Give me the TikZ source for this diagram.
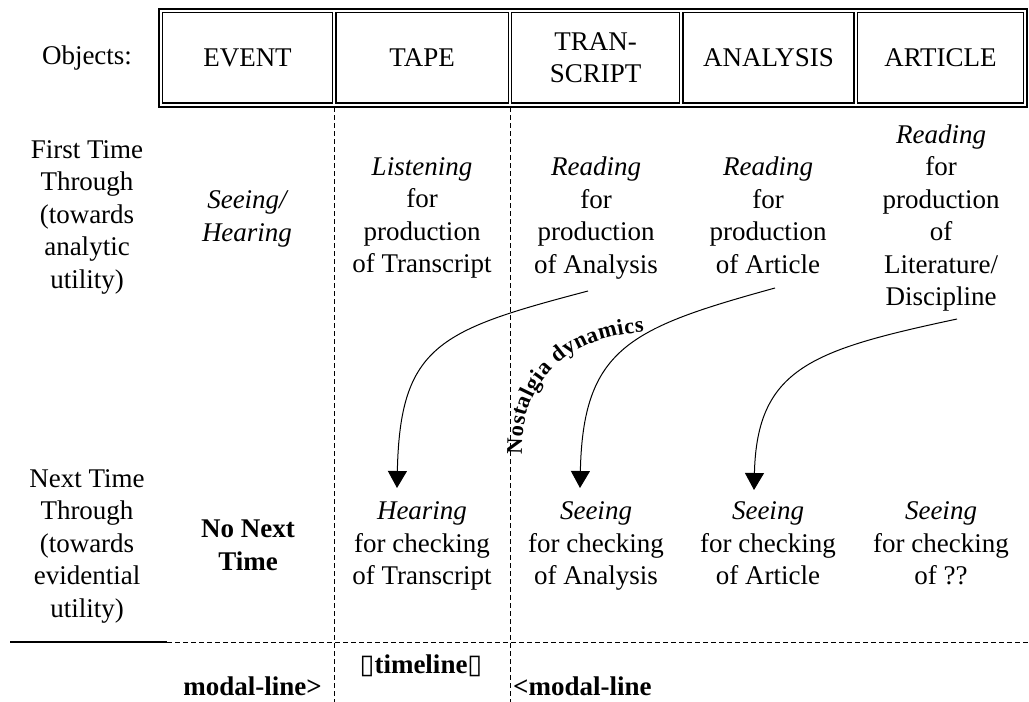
\documentclass[tikz,border=0pt]{standalone}
\usepackage{fontspec}
\setmainfont{Liberation Serif}
\newfontfamily\symfont{DejaVu Sans}
\usetikzlibrary{arrows.meta,decorations.text}
\begin{document}
\begin{tikzpicture}[x=1pt,y=-1pt,
  txt/.style={align=center, font=\fontsize{27}{32.5}\selectfont, inner sep=0pt,
    execute at begin node=\strut, execute at end node=\strut},
  btxt/.style={txt, font=\fontsize{27}{32.5}\selectfont\bfseries},
  lbl/.style={inner sep=0pt, font=\fontsize{27}{32.5}\selectfont\bfseries},
  cell/.style={draw, line width=1.2pt, inner sep=0pt, align=center,
    font=\fontsize{27}{32.5}\selectfont, minimum height=90.5pt},
  vdash/.style={line width=0.9pt, dash pattern=on 5pt off 3pt},
  flow/.style={line width=1pt, -{Triangle[width=19pt,length=17pt]}}]
\useasboundingbox (0,0) rectangle (1029,702);
% header table
\draw[line width=1.2pt] (159,9) rectangle (1027,107);
\node[txt] (objects) at (87,58) {Objects:};
\node[cell, minimum width=170pt] (event) at (247.5,57.75) {EVENT};
\node[cell, minimum width=172.3pt] (tape) at (422.15,57.75) {TAPE};
\node[cell, minimum width=167.8pt] (transcript) at (595.6,57.75) {TRAN-\\SCRIPT};
\node[cell, minimum width=171pt] (analysis) at (768.5,57.75) {ANALYSIS};
\node[cell, minimum width=166pt] (article) at (940.5,57.75) {ARTICLE};
% dividers
\coordinate (d1t) at (334.3,107); \coordinate (d1b) at (334.3,702);
\coordinate (d2t) at (510,107);   \coordinate (d2b) at (510,702);
\draw[vdash] (d1t) -- (d1b);
\draw[vdash] (d2t) -- (d2b);
\coordinate (hl) at (10,642); \coordinate (hm) at (167,642); \coordinate (hr) at (1029,642);
\draw[line width=1.3pt] (hl) -- (hm);
\draw[vdash] (hm) -- (hr);
% row 1
\node[txt] (first) at (87,219) {First Time\\Through\\(towards\\analytic\\utility)};
\node[txt] (seeing1) at (247,221) {\itshape Seeing/\\\itshape Hearing};
\node[txt] (listen) at (422,220) {\itshape Listening\\for\\production\\of Transcript};
\node[txt] (readT) at (596,220) {\itshape Reading\\for\\production\\of Analysis};
\node[txt] (readA) at (768,220) {\itshape Reading\\for\\production\\of Article};
\node[txt] (readR) at (941,220) {\itshape Reading\\for\\production\\of\\Literature/\\Discipline};
% row 2
\node[txt] (next) at (87,548) {Next Time\\Through\\(towards\\evidential\\utility)};
\node[btxt] (nonext) at (248,550) {No Next\\Time};
\node[txt] (hearing) at (422,548) {\itshape Hearing\\for checking\\of Transcript};
\node[txt] (seeA) at (596,548) {\itshape Seeing\\for checking\\of Analysis};
\node[txt] (seeR) at (768,548) {\itshape Seeing\\for checking\\of Article};
\node[txt] (seeQ) at (941,548) {\itshape Seeing\\for checking\\of ??};
% bottom labels
\node[lbl, anchor=base] (timeline) at (421,673) {{\symfont\mdseries ▯}timeline{\symfont\mdseries ▯}};
\node[lbl, anchor=base east] (modalL) at (322,695) {modal-line>};
\node[lbl, anchor=base west] (modalR) at (513,695) {<modal-line};
% arrows
\coordinate (a1s) at (588,291); \coordinate (a1e) at (397,488);
\coordinate (a2s) at (775,288); \coordinate (a2e) at (580,488);
\coordinate (a3s) at (957,319); \coordinate (a3e) at (754,490);
\draw[flow] (a1s) .. controls (440,330) and (400,345) .. (a1e);
\draw[flow] (a2s) .. controls (630,328) and (583,348) .. (a2e);
\draw[flow] (a3s) .. controls (812,350) and (757,368) .. (a3e);
% nostalgia text
\coordinate (n1) at (522,454); \coordinate (n2) at (644,332);
\path[decorate, decoration={text along path,
    text={|\fontsize{22.5}{24}\selectfont\bfseries|Nostalgia dynamics},
    text align=fit to path}]
  (n1) .. controls (520,385) and (564,337) .. (n2);
\end{tikzpicture}
\end{document}
